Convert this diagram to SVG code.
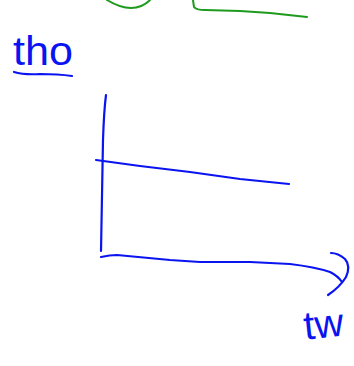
<svg xmlns="http://www.w3.org/2000/svg" width="354" height="366" viewBox="0 0 354 366">
<style>
.b{fill:none;stroke:#0a14f0;stroke-width:2.2;stroke-linecap:round;stroke-linejoin:round}
.g{fill:none;stroke:#1e9a1e;stroke-width:2;stroke-linecap:round;stroke-linejoin:round}
.t{font-family:"Liberation Sans",Arial,sans-serif;fill:#0a14f0}
</style>
<rect width="354" height="366" fill="#fff"/>
<g id="green-sketch">
<path class="g" d="M107,0 Q120,8 131,8 Q142,8 150,0"/>
<path class="g" d="M193,0 L194,7 Q196,10 205,10 L240,11 L270,13 L307,17"/>
</g>
<g id="label-tho">
<text class="t" x="13" y="65" font-size="40" textLength="60" lengthAdjust="spacingAndGlyphs">tho</text>
<path class="b" d="M14,72 Q24,75 40,74 Q58,74 72,76"/>
</g>
<g id="axes">
<path class="b" d="M106,95 Q104,110 103,140 Q102,200 101,251"/>
<path class="b" d="M96,160 L140,166 L190,172 L240,179 L289,184"/>
<path class="b" d="M101,257 Q110,255 117,255 L170,260 L200,262 L250,262 L290,264 Q315,267 330,272 Q338,276 342,282"/>
<path class="b" d="M331,253 Q338,253 345,259 Q351,266 346,277 Q340,287 328,295"/>
</g>
<g id="label-tw">
<text class="t" x="303" y="338" font-size="40" transform="rotate(-6 320 320)">tw</text>
</g>
</svg>
